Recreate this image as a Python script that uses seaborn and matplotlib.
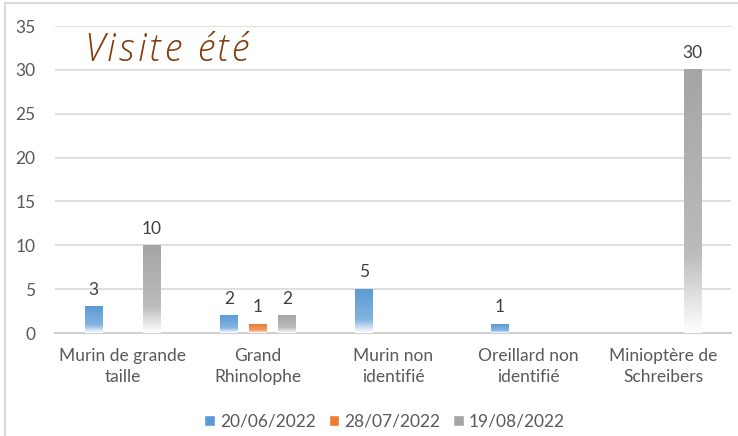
import numpy as np
import pandas as pd
import matplotlib
matplotlib.use("Agg")
import matplotlib.pyplot as plt
from matplotlib.colors import to_rgb
from matplotlib.patches import Rectangle
from matplotlib.transforms import offset_copy
import seaborn as sns

# Species observed and counts per visit date
species = ["Murin de grande\ntaille", "Grand\nRhinolophe", "Murin non\nidentifié",
           "Oreillard non\nidentifié", "Minioptère de\nSchreibers"]
dates = ["20/06/2022", "28/07/2022", "19/08/2022"]
counts_0620 = [3, 2, 5, 1, 0]
counts_0728 = [0, 1, 0, 0, 0]
counts_0819 = [10, 2, 0, 0, 30]
colors = ["#5b9bd5", "#ed7d31", "#a5a5a5"]
yticks = [0, 5, 10, 15, 20, 25, 30, 35]
title = "Visite été"

df = pd.DataFrame({
    "espece": species * 3,
    "date": [d for d in dates for _ in species],
    "n": counts_0620 + counts_0728 + counts_0819,
})

sns.set_theme(style="white")
plt.rcParams["font.family"] = ["Lato", "DejaVu Sans"]
text_col = "#595959"

fig = plt.figure(figsize=(7.38, 4.36), dpi=100)
ax = fig.add_axes([55 / 738, 103 / 436, 676 / 738, 307 / 436])

sns.barplot(data=df, x="espece", y="n", hue="date", order=species, hue_order=dates,
            palette=colors, width=0.645, gap=0.41, ax=ax, legend=False,
            errorbar=None, zorder=3)

# Replace solid fills by a vertical fade towards white at the base
def gradient(col, n=256):
    c = np.array(to_rgb(col))
    light = c + (1 - c) * 0.25
    t = np.linspace(0, 1, n)
    rows = []
    for v in t:
        if v < 0.3:
            k = v / 0.3
            rgb = np.ones(3) * (1 - k) + light * k
            rgb = np.ones(3) * 0.03 * (1 - k) + rgb * (1 - 0.03 * (1 - k))
        else:
            k = (v - 0.3) / 0.7
            rgb = light * (1 - k) + c * k
        rows.append(rgb)
    return np.array(rows)[:, None, :]

bars = [p for p in ax.patches if isinstance(p, Rectangle)]
for i, p in enumerate(bars):
    h = p.get_height()
    col = colors[i // len(species)]
    p.set_facecolor("none")
    p.set_edgecolor("none")
    if h > 0:
        x0 = p.get_x()
        w = p.get_width()
        ax.imshow(gradient(col), extent=[x0, x0 + w, 0, h], origin="lower",
                  aspect="auto", zorder=3, interpolation="bilinear")
        ax.text(x0 + w / 2, h + 1.0, f"{int(h)}", ha="center", va="bottom",
                fontsize=12.5, color="#404040")

ax.set_xlim(-0.5, len(species) - 0.5)
ax.set_ylim(0, 35)
ax.set_yticks(yticks)
ax.set_yticklabels([str(v) for v in yticks], fontsize=12.5, color=text_col)
ax.tick_params(axis="x", labelsize=12.5, colors=text_col, pad=11)
ax.tick_params(axis="y", pad=14, length=0)
ax.tick_params(axis="x", length=0)
for lab in ax.get_xticklabels():
    lab.set_linespacing(1.4)
ax.set_xlabel("")
ax.set_ylabel("")
ax.grid(axis="y", color="#d9d9d9", linewidth=1.2, zorder=0)
ax.set_axisbelow(True)
for s in ["top", "right", "left"]:
    ax.spines[s].set_visible(False)
ax.spines["bottom"].set_color("#d0d0d0")
ax.spines["bottom"].set_linewidth(1.5)

# Title with widened letter spacing, laid out one character at a time
renderer = fig.canvas.get_renderer()
title_kw = dict(fontsize=27, style="italic", fontweight="light",
                family=["Open Sans", "DejaVu Sans"], color="#843c0c",
                va="baseline", ha="left")
tracking = 3.2  # extra pixels between characters
x_px = 0.0
for ch in title:
    tr = offset_copy(ax.transAxes, fig=fig, x=x_px * 72 / fig.dpi, y=0, units="points")
    t = ax.text(0.043, 0.885, ch, transform=tr, **title_kw)
    if ch == " ":
        adv = 0.26 * 27 * fig.dpi / 72
    else:
        adv = t.get_window_extent(renderer).width
    x_px += adv + tracking

handles = [Rectangle((0, 0), 1, 1, facecolor=c) for c in colors]
fig.legend(handles, dates, loc="center", bbox_to_anchor=(0.521, 0.034), ncol=3,
           frameon=False, fontsize=12.5, handlelength=0.6, handleheight=0.6,
           handletextpad=0.3, columnspacing=0.75, labelcolor=text_col)

# outer chart frame
fig.patches.append(Rectangle((5 / 738, -0.1), 1.2, 0.1 + 433 / 436, transform=fig.transFigure,
                             fill=False, edgecolor="#d9d9d9", linewidth=1.5))

fig.savefig("out.png", dpi=100)
